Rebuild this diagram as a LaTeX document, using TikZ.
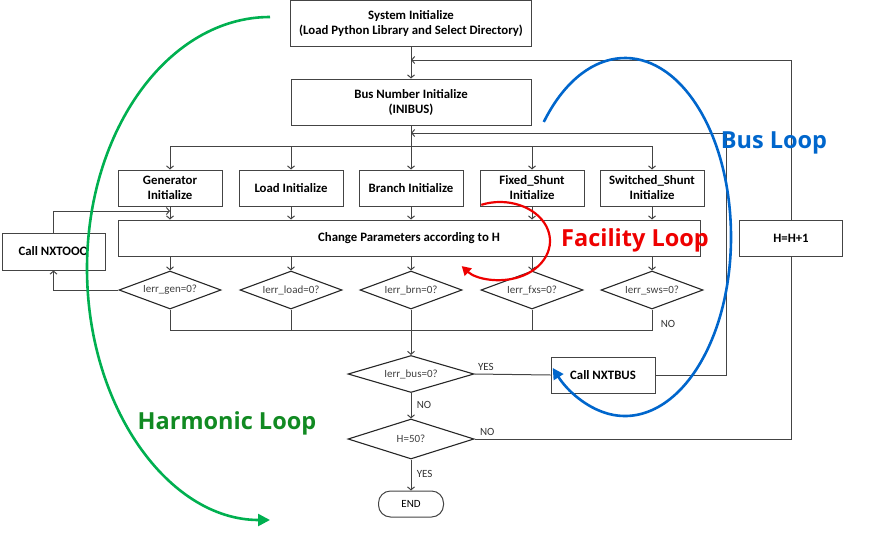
\documentclass[tikz,border=0pt]{standalone}
\usepackage{fontspec}
\setmainfont{Carlito}
\newfontfamily\labfont{Open Sans}
\usetikzlibrary{arrows.meta,shapes.geometric,calc}
\definecolor{lgray}{HTML}{444444}
\definecolor{dgreen}{HTML}{118A22}
\definecolor{cgreen}{HTML}{00B050}
\definecolor{cblue}{HTML}{0066CC}
\definecolor{cred}{HTML}{EE0000}
\begin{document}
\begin{tikzpicture}[x=1pt,y=1pt,
  box/.style={draw=lgray,line width=1pt,rectangle,minimum width=104pt,minimum height=36pt,inner sep=1pt,align=center,font=\fontsize{12.8}{15}\selectfont\bfseries},
  dia/.style={draw=black!85,line width=1.1pt,diamond,aspect=2.7,minimum width=102pt,minimum height=38pt,inner sep=0pt,font=\fontsize{11}{13}\selectfont,text=black!75},
  arr/.style={draw=lgray,line width=1pt,-{Straight Barb[length=3pt,width=7pt]}},
  ln/.style={draw=lgray,line width=1pt},
  yn/.style={font=\fontsize{11}{13}\selectfont,text=black!80},
  bigl/.style={font=\labfont\fontsize{23.5}{26}\selectfont\bfseries}]
\useasboundingbox (0,0) rectangle (890,-535);

% main boxes
\node[box,minimum width=241pt,minimum height=46pt] (sys) at (411,-24) {System Initialize\\(Load Python Library and Select Directory)};
\node[box,minimum width=240pt,minimum height=46pt] (bus) at (411,-102) {Bus Number Initialize\\(INIBUS)};
\node[box] (gen) at (170,-188) {Generator\\Initialize};
\node[box] (load) at (291,-188) {Load Initialize};
\node[box] (brn) at (411,-188) {Branch Initialize};
\node[box] (fxs) at (532,-188) {Fixed\_Shunt\\Initialize};
\node[box] (sws) at (652,-188) {Switched\_Shunt\\Initialize};
\node[box,minimum width=582pt] (chg) at (409,-238) {Change Parameters according to H};

\node[dia] (d1) at (170,-290) {Ierr\_gen=0?};
\node[dia] (d2) at (291,-290) {Ierr\_load=0?};
\node[dia] (d3) at (411,-290) {Ierr\_brn=0?};
\node[dia] (d4) at (532,-290) {Ierr\_fxs=0?};
\node[dia] (d5) at (652,-290) {Ierr\_sws=0?};

\node[box,minimum width=103pt,minimum height=37pt] (nxtooo) at (53.5,-251.5) {Call NXTOOO};
\node[box,minimum width=103pt] (hh) at (791,-238) {H=H+1};

\node[dia,minimum width=126pt,minimum height=37pt] (bd) at (411,-374) {Ierr\_bus=0?};
\node[dia,minimum width=126pt,minimum height=40pt] (h50) at (411,-439) {H=50?};
\node[box] (nxtbus) at (603,-375) {Call NXTBUS};
\node[draw=lgray,line width=1pt,rectangle,rounded corners=12pt,minimum width=65pt,minimum height=26pt,font=\fontsize{11}{13}\selectfont] (end) at (411,-504) {END};

% coordinates
\coordinate (split) at (411,-146);
\coordinate (merge) at (411,-330);
\coordinate (ret1) at (791,-60);
\coordinate (ret2) at (726,-133);
\coordinate (gin) at (170,-211);

% connectors
\draw[arr] (sys) -- (bus);
\draw[arr] (bus) -- (brn);
\draw[arr] (split) -| (gen.north);
\draw[arr] (split) -| (load.north);
\draw[arr] (split) -| (fxs.north);
\draw[arr] (split) -| (sws.north);
\foreach \n in {gen,load,brn,fxs,sws}{
  \draw[arr] (\n.south) -- (\n.south |- chg.north);
}
\foreach \n in {d1,d2,d3,d4,d5}{
  \draw[arr] (\n.north |- chg.south) -- (\n.north);
}
\draw[ln] (d1.south) |- (d5.south |- merge) -- (d5.south);
\draw[ln] (d2.south) -- (d2.south |- merge);
\draw[ln] (d3.south) -- (d3.south |- merge);
\draw[ln] (d4.south) -- (d4.south |- merge);
\node[yn] at (668,-324) {NO};
\draw[arr] (merge) -- (bd.north);
\draw[arr] (bd.south) -- node[yn,right=2pt,pos=0.45] {NO} (h50.north);
\draw[arr] (h50.south) -- node[yn,right=2pt,pos=0.45] {YES} (end.north);
\draw[ln] (bd.east) -- node[yn,above,pos=0.15] {YES} (nxtbus.west);
\draw[arr] (nxtbus.east) -| (ret2) -- (ret2 -| bus.south);
\draw[ln] (h50.east) -- node[yn,above,pos=0.04] {NO} (h50.east -| hh.south) -- (hh.south);
\draw[arr] (hh.north) -- (ret1) -- (ret1 -| sys.south);
\draw[arr] (d1.west) -| (nxtooo.south);
\draw[arr] (nxtooo.north) |- (gin);

% loops
\draw[cgreen,line width=2.6pt,-{Triangle[length=12pt,width=12pt]}] (270,-17) arc[start angle=90,end angle=270,x radius=183,y radius=251.5];
\draw[cblue,line width=2.6pt,-{Triangle[length=11pt,width=11pt]}] (625,-237) ++(140:106 and 179) arc[start angle=140,end angle=-133,x radius=106,y radius=179];
\draw[cred,line width=2.2pt,-{Triangle[length=9pt,width=10pt]}] (500,-241) ++(112:50 and 39) arc[start angle=112,end angle=-140,x radius=50,y radius=39];

\node[bigl,text=cblue] (busloop) at (774,-143) {Bus Loop};
\node[bigl,text=cred] (facloop) at (635,-240) {Facility Loop};
\node[bigl,text=dgreen] (harmloop) at (227,-423) {Harmonic Loop};
\end{tikzpicture}
\end{document}
